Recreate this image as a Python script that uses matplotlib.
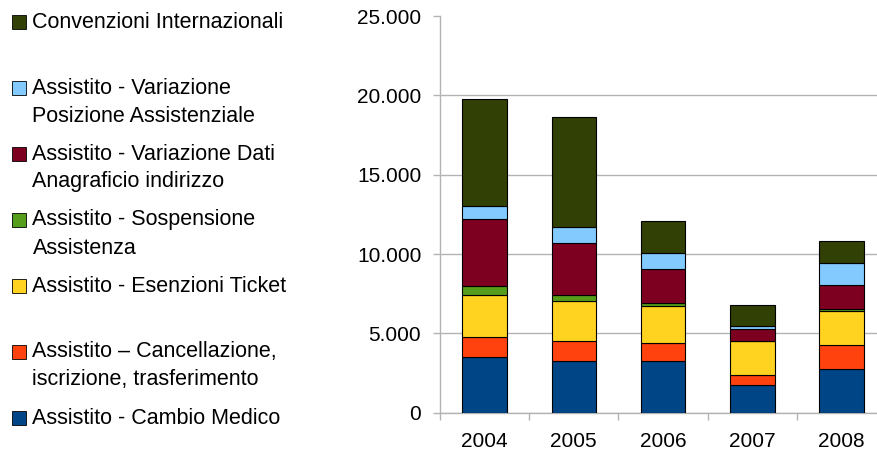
import matplotlib
matplotlib.use("Agg")
import matplotlib.pyplot as plt
from matplotlib.patches import Rectangle
from matplotlib.ticker import FuncFormatter, FixedLocator
import numpy as np

plt.rcParams['font.family'] = ['Liberation Sans', 'DejaVu Sans']

years = ['2004', '2005', '2006', '2007', '2008']

# series from bottom of the stack to the top
series_names = [
    'Assistito - Cambio Medico',
    'Assistito \u2013 Cancellazione,\niscrizione, trasferimento',
    'Assistito - Esenzioni Ticket',
    'Assistito - Sospensione\nAssistenza',
    'Assistito - Variazione Dati\nAnagraficio indirizzo',
    'Assistito - Variazione\nPosizione Assistenziale',
    'Convenzioni Internazionali',
]
cambio_medico = [3500, 3250, 3250, 1730, 2740]
cancellazione = [1250, 1250, 1130, 650, 1510]
esenzioni = [2650, 2540, 2370, 2120, 2140]
sospensione = [600, 360, 150, 40, 130]
variazione_dati = [4200, 3280, 2140, 720, 1510]
variazione_posizione = [860, 1010, 1010, 230, 1390]
convenzioni = [6700, 6950, 2020, 1290, 1410]

series_values = [cambio_medico, cancellazione, esenzioni, sospensione,
                 variazione_dati, variazione_posizione, convenzioni]
colors = ['#004586', '#ff420e', '#ffd320', '#579d1c', '#7e0021', '#83caff', '#314004']

W, H = 877, 458
fig = plt.figure(figsize=(W / 100, H / 100), dpi=100)
ax = fig.add_axes([440 / W, (H - 412.7) / H, 446 / W, 396.5 / H])

x = np.arange(len(years))
bottom = np.zeros(len(years))
for vals, col in zip(series_values, colors):
    ax.bar(x, vals, 0.5, bottom=bottom, color=col, edgecolor='black', linewidth=0.8, zorder=3)
    bottom += np.array(vals)

grey = '#b3b3b3'
ax.set_xlim(-0.5, 4.5)
ax.set_ylim(0, 25000)
ax.set_yticks(np.arange(0, 25001, 5000))
ax.yaxis.set_major_formatter(FuncFormatter(lambda v, p: f"{int(v):,}".replace(',', '.')))
ax.yaxis.grid(True, color=grey, linewidth=1, zorder=0)
ax.get_ygridlines()[-1].set_visible(False)
ax.set_axisbelow(True)

ax.set_xticks(x)
ax.set_xticklabels(years)
ax.xaxis.set_minor_locator(FixedLocator(np.arange(-0.5, 5, 1)))
ax.tick_params(axis='x', which='major', length=0, pad=14, labelsize=15)
ax.tick_params(axis='x', which='minor', length=5, color=grey, width=1)
ax.tick_params(axis='y', length=5, color=grey, width=1, pad=8.5, labelsize=15)

for s in ['top', 'right']:
    ax.spines[s].set_visible(False)
for s in ['left', 'bottom']:
    ax.spines[s].set_color(grey)
    ax.spines[s].set_linewidth(1)

# legend, drawn by hand to match the two-line layout
legend_order = list(range(len(series_names)))[::-1]
for i, k in enumerate(legend_order):
    base = 27.5 + 66 * i
    fig.patches.append(Rectangle((11.7 / W, 1 - (base + 1.5) / H), 14 / W, 14 / H,
                                 transform=fig.transFigure, facecolor=colors[k],
                                 edgecolor='black', linewidth=0.6))
    for j, line in enumerate(series_names[k].split('\n')):
        fig.text(32.5 / W, 1 - (base + 28 * j) / H, line, fontsize=15.5,
                 va='baseline', ha='left', color='black')

fig.savefig('out.png', dpi=100)
